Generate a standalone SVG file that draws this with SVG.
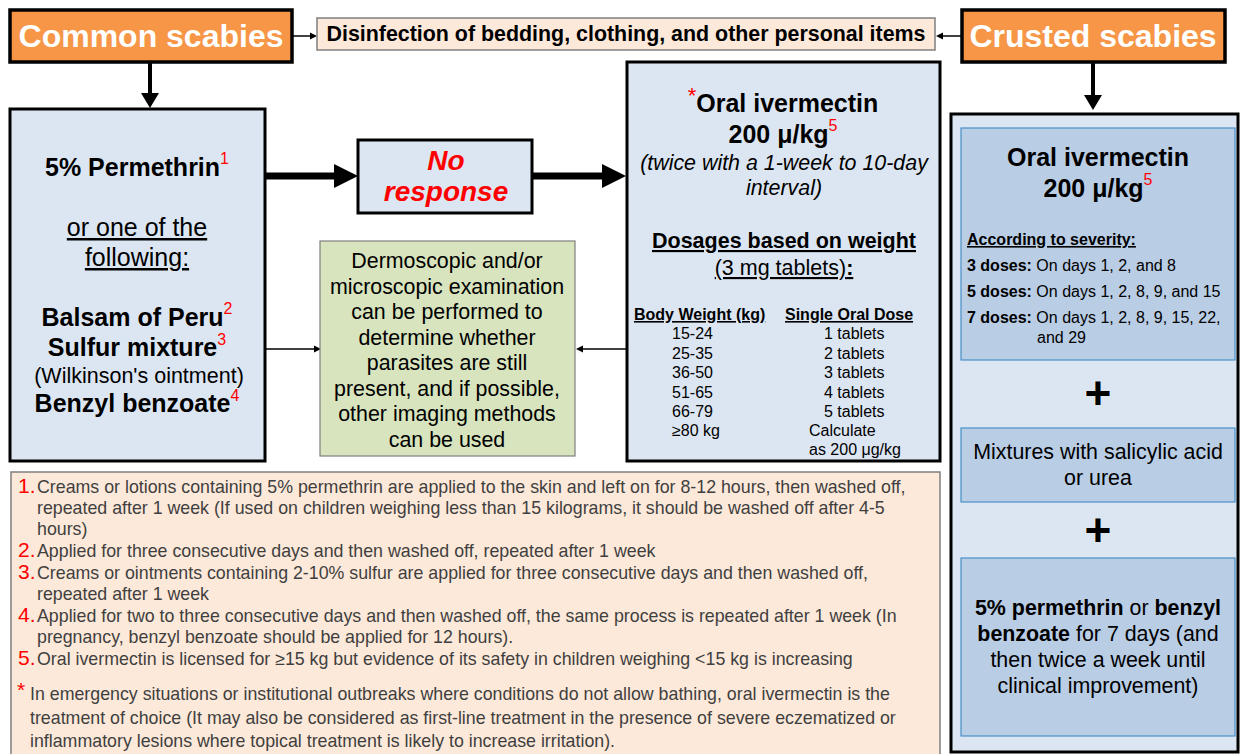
<svg xmlns="http://www.w3.org/2000/svg" width="1240" height="754" viewBox="0 0 1240 754">
<style>
text{font-family:"Liberation Sans",Arial,sans-serif;fill:#000}
.hdr{fill:#F79646;stroke:#000;stroke-width:3.5}
.hdrt{font-size:32px;font-weight:bold;fill:#fff;text-anchor:middle}
.blue{fill:#DCE6F2;stroke:#000;stroke-width:3}
.peach{fill:#FDE9D9;stroke:#7F7F7F;stroke-width:1.5}
.green{fill:#D7E4BD;stroke:#7F7F7F;stroke-width:1.2}
.inner{fill:#B9CDE5;stroke:#4A90C8;stroke-width:1.2}
.c{text-anchor:middle}
.b{font-weight:bold}
.red{fill:#FF0000}
.sup{font-size:16px;font-weight:normal;fill:#FF0000}
.fn{font-size:17.8px;fill:#3F3F3F}
.fnum{font-size:21px;fill:#FF0000}
.thin{stroke:#000;stroke-width:1.5;fill:none}
</style>
<g id="connectors">
  <line x1="292" y1="36" x2="312" y2="36" class="thin"/>
  <polygon points="310,32.5 317,36 310,39.5"/>
  <line x1="962" y1="36" x2="941" y2="36" class="thin"/>
  <polygon points="943,32.5 936,36 943,39.5"/>
  <line x1="150" y1="62" x2="150" y2="94" stroke="#000" stroke-width="4"/>
  <polygon points="141,93 159,93 150,108"/>
  <line x1="1093" y1="62" x2="1093" y2="96" stroke="#000" stroke-width="4"/>
  <polygon points="1084,95 1102,95 1093,110"/>
  <line x1="265" y1="176" x2="336" y2="176" stroke="#000" stroke-width="7"/>
  <polygon points="334,164 358,176 334,188"/>
  <line x1="532" y1="176" x2="604" y2="176" stroke="#000" stroke-width="7"/>
  <polygon points="602,164 626,176 602,188"/>
  <line x1="265" y1="349" x2="316" y2="349" class="thin"/>
  <polygon points="314,345.5 321,349 314,352.5"/>
  <line x1="627" y1="349" x2="582" y2="349" class="thin"/>
  <polygon points="583,345.5 576,349 583,352.5"/>
</g>
<g id="common-scabies">
  <rect x="10" y="10" width="282" height="52" class="hdr"/>
  <text x="151" y="47" class="hdrt">Common scabies</text>
</g>
<g id="disinfection">
  <rect x="317" y="18" width="618" height="32" class="peach"/>
  <text x="626" y="41" class="c b" font-size="21.4px">Disinfection of bedding, clothing, and other personal items</text>
</g>
<g id="crusted-scabies">
  <rect x="962" y="10" width="263" height="52" class="hdr"/>
  <text x="1093" y="47" class="hdrt">Crusted scabies</text>
</g>
<g id="topical">
  <rect x="10" y="109" width="255" height="352" class="blue"/>
  <text x="137" y="176" class="c b" font-size="25px">5% Permethrin<tspan dy="-12" class="sup">1</tspan></text>
  <text x="137" y="236" class="c" font-size="25px" text-decoration="underline">or one of the</text>
  <text x="137" y="266" class="c" font-size="25px" text-decoration="underline">following:</text>
  <text x="137" y="326" class="c b" font-size="25px">Balsam of Peru<tspan dy="-12" class="sup">2</tspan></text>
  <text x="137" y="356" class="c b" font-size="25px">Sulfur mixture<tspan dy="-11" class="sup">3</tspan></text>
  <text x="139" y="383" class="c" font-size="21.5px">(Wilkinson's ointment)</text>
  <text x="137" y="412" class="c b" font-size="25px">Benzyl benzoate<tspan dy="-11" class="sup">4</tspan></text>
</g>
<g id="no-response">
  <rect x="358" y="140" width="174" height="73" class="blue" stroke-width="2"/>
  <text x="446" y="170" class="c b red" font-size="28px" font-style="italic">No</text>
  <text x="446" y="201" class="c b red" font-size="28px" font-style="italic">response</text>
</g>
<g id="examination">
  <rect x="320" y="241" width="255" height="215" class="green"/>
  <g font-size="21.4px">
    <text x="447" y="268" class="c">Dermoscopic and/or</text>
    <text x="447" y="293.5" class="c">microscopic examination</text>
    <text x="447" y="319" class="c">can be performed to</text>
    <text x="447" y="344.5" class="c">determine whether</text>
    <text x="447" y="370" class="c">parasites are still</text>
    <text x="447" y="395.5" class="c">present, and if possible,</text>
    <text x="447" y="421" class="c">other imaging methods</text>
    <text x="447" y="446.5" class="c">can be used</text>
  </g>
</g>
<g id="ivermectin">
  <rect x="627" y="62" width="313" height="399" class="blue"/>
  <text x="783" y="112" class="c b" font-size="25px"><tspan font-size="22px" font-weight="normal" class="red" dy="-9">*</tspan><tspan dy="9">Oral ivermectin</tspan></text>
  <text x="783" y="143" class="c b" font-size="25px">200 μ/kg<tspan dy="-12" class="sup">5</tspan></text>
  <text x="784" y="170" class="c" font-size="21.4px" font-style="italic">(twice with a 1-week to 10-day</text>
  <text x="784" y="195" class="c" font-size="21.4px" font-style="italic">interval)</text>
  <text x="784" y="248" class="c b" font-size="21.5px" text-decoration="underline">Dosages based on weight</text>
  <text x="784" y="275" class="c" font-size="21.5px" text-decoration="underline">(3 mg tablets)<tspan font-weight="bold">:</tspan></text>
  <g font-size="16px">
    <text x="634" y="320" class="b" text-decoration="underline">Body Weight (kg)</text>
    <text x="785" y="320" class="b" text-decoration="underline">Single Oral Dose</text>
    <text x="672" y="339">15-24</text>
    <text x="672" y="358.5">25-35</text>
    <text x="672" y="378">36-50</text>
    <text x="672" y="397.5">51-65</text>
    <text x="672" y="417">66-79</text>
    <text x="672" y="436">≥80 kg</text>
    <text x="824" y="339">1 tablets</text>
    <text x="824" y="358.5">2 tablets</text>
    <text x="824" y="378">3 tablets</text>
    <text x="824" y="397.5">4 tablets</text>
    <text x="824" y="417">5 tablets</text>
    <text x="809" y="436">Calculate</text>
    <text x="809" y="455">as 200 μg/kg</text>
  </g>
</g>
<g id="crusted-treatment">
  <rect x="951" y="114" width="287" height="638" class="blue"/>
  <rect x="961" y="128" width="274" height="232" class="inner"/>
  <text x="1098" y="166" class="c b" font-size="25px">Oral ivermectin</text>
  <text x="1098" y="197" class="c b" font-size="25px">200 μ/kg<tspan dy="-12" class="sup">5</tspan></text>
  <g font-size="16px">
    <text x="967" y="245" class="b" text-decoration="underline">According to severity:</text>
    <text x="967" y="271"><tspan class="b">3 doses:</tspan> On days 1, 2, and 8</text>
    <text x="967" y="297"><tspan class="b">5 doses:</tspan> On days 1, 2, 8, 9, and 15</text>
    <text x="967" y="323"><tspan class="b">7 doses:</tspan> On days 1, 2, 8, 9, 15, 22,</text>
    <text x="1037" y="343">and 29</text>
  </g>
  <text x="1098" y="409" class="c b" font-size="46px">+</text>
  <rect x="961" y="428" width="274" height="74" class="inner"/>
  <text x="1098" y="459" class="c" font-size="21.4px">Mixtures with salicylic acid</text>
  <text x="1098" y="485" class="c" font-size="21.4px">or urea</text>
  <text x="1098" y="546" class="c b" font-size="46px">+</text>
  <rect x="961" y="558" width="274" height="178" class="inner"/>
  <g font-size="21.4px">
    <text x="1098" y="615" class="c"><tspan class="b">5% permethrin</tspan> or <tspan class="b">benzyl</tspan></text>
    <text x="1098" y="641" class="c"><tspan class="b">benzoate</tspan> for 7 days (and</text>
    <text x="1098" y="667" class="c">then twice a week until</text>
    <text x="1098" y="693" class="c">clinical improvement)</text>
  </g>
</g>
<g id="footnotes">
  <rect x="11" y="472" width="929" height="290" class="peach"/>
  <text x="18" y="493" class="fnum">1.</text>
  <text x="37" y="493" class="fn">Creams or lotions containing 5% permethrin are applied to the skin and left on for 8-12 hours, then washed off,</text>
  <text x="37" y="514" class="fn">repeated after 1 week (If used on children weighing less than 15 kilograms, it should be washed off after 4-5</text>
  <text x="37" y="535" class="fn">hours)</text>
  <text x="18" y="557" class="fnum">2.</text>
  <text x="37" y="557" class="fn">Applied for three consecutive days and then washed off, repeated after 1 week</text>
  <text x="18" y="579" class="fnum">3.</text>
  <text x="37" y="579" class="fn">Creams or ointments containing 2-10% sulfur are applied for three consecutive days and then washed off,</text>
  <text x="37" y="600" class="fn">repeated after 1 week</text>
  <text x="18" y="622" class="fnum">4.</text>
  <text x="37" y="622" class="fn">Applied for two to three consecutive days and then washed off, the same process is repeated after 1 week (In</text>
  <text x="37" y="643" class="fn">pregnancy, benzyl benzoate should be applied for 12 hours).</text>
  <text x="18" y="665" class="fnum">5.</text>
  <text x="37" y="665" class="fn">Oral ivermectin is licensed for ≥15 kg but evidence of its safety in children weighing &lt;15 kg is increasing</text>
  <text x="17" y="697" class="fnum" font-size="28px">*</text>
  <text x="30" y="700" class="fn">In emergency situations or institutional outbreaks where conditions do not allow bathing, oral ivermectin is the</text>
  <text x="30" y="724" class="fn">treatment of choice (It may also be considered as first-line treatment in the presence of severe eczematized or</text>
  <text x="30" y="747" class="fn">inflammatory lesions where topical treatment is likely to increase irritation).</text>
</g>
</svg>
